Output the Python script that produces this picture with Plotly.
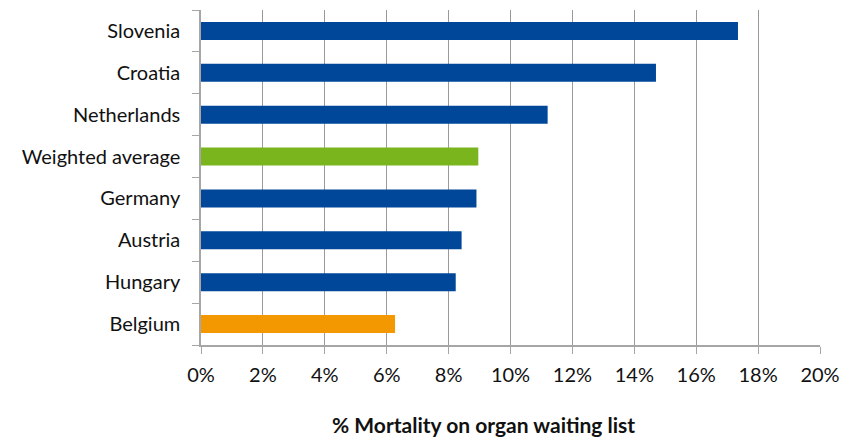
import plotly.graph_objects as go

categories = ["Belgium", "Hungary", "Austria", "Germany", "Weighted average", "Netherlands", "Croatia", "Slovenia"]
values = [6.27, 8.23, 8.42, 8.90, 8.96, 11.20, 14.70, 17.35]
colors = ["#F39800", "#00479A", "#00479A", "#00479A", "#7AB51D", "#00479A", "#00479A", "#00479A"]
tick_vals = [0, 2, 4, 6, 8, 10, 12, 14, 16, 18, 20]
tick_text = [f"{v}%" for v in tick_vals]
axis_title = "% Mortality on organ waiting list"

fig = go.Figure(go.Bar(
    y=categories, x=values, orientation="h",
    marker=dict(color=colors, line=dict(width=0)),
))

fig.update_layout(
    width=841, height=438,
    margin=dict(l=201, r=21, t=10, b=93, autoexpand=False),
    paper_bgcolor="white", plot_bgcolor="white",
    bargap=0.57,
    showlegend=False,
    font=dict(family="Lato, Carlito, sans-serif", size=20, color="#111111"),
)
fig.add_annotation(
    text=f"<b>{axis_title}</b>", xref="paper", yref="paper",
    x=0.457, y=-0.236, xanchor="center", yanchor="middle",
    showarrow=False, font=dict(size=21),
)
fig.update_xaxes(
    range=[0, 20], tickvals=tick_vals, ticktext=tick_text,
    showgrid=True, gridcolor="#9A9A9A", gridwidth=1,
    showline=True, linecolor="#A6A6A6", linewidth=1.5,
    ticks="outside", ticklen=7, tickcolor="#A6A6A6",
    zeroline=False, automargin=False,
    ticklabelstandoff=4,
)
fig.update_yaxes(
    showline=True, linecolor="#A6A6A6", linewidth=1.5,
    ticks="outside", ticklen=7, tickcolor="#A6A6A6",
    tickson="boundaries", showgrid=False, automargin=False,
    ticklabelstandoff=15,
)

fig.write_html("out.html", config={"displayModeBar": False},
               post_script="document.body.style.margin='0';document.body.style.overflow='hidden';")
